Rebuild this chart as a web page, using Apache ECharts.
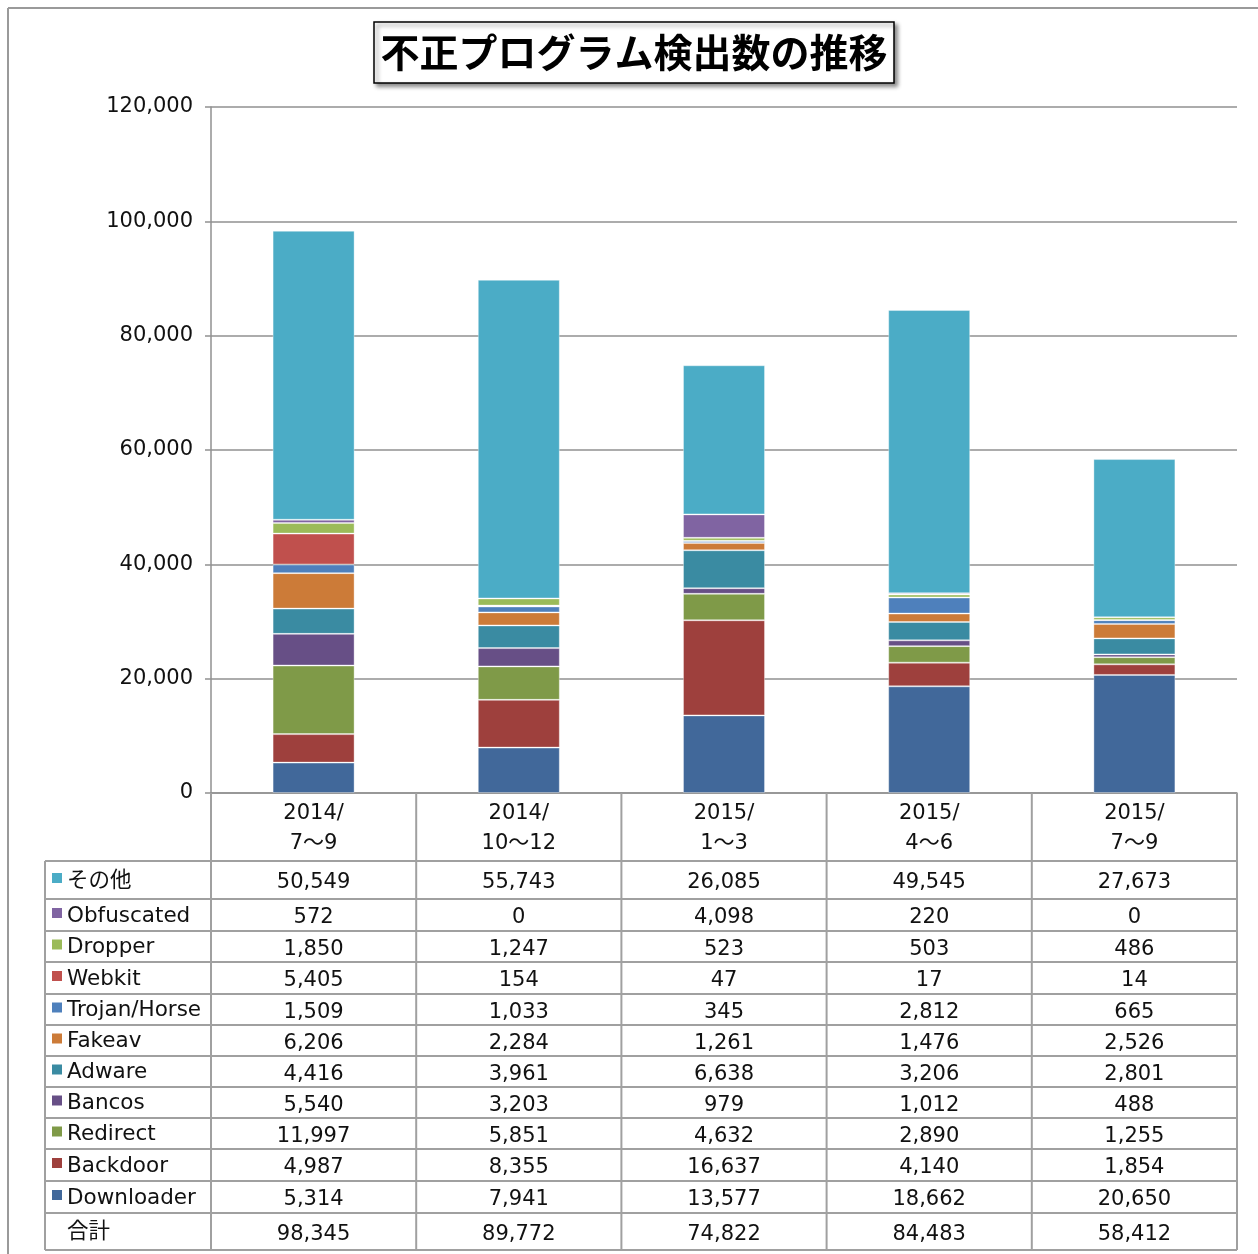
<!DOCTYPE html>
<html>
<head>
<meta charset="utf-8">
<script src="https://cdn.jsdelivr.net/npm/echarts@6/dist/echarts.min.js"></script>
<style>
html,body{margin:0;padding:0;background:#fff;}
#main{width:1258px;height:1254px;}
</style>
</head>
<body>
<div id="main"></div>
<script>
// ---- data ----
const titleText = '不正プログラム検出数の推移';
const categories = ['2014/\n7～9', '2014/\n10～12', '2015/\n1～3', '2015/\n4～6', '2015/\n7～9'];
const yTicks = [0, 20000, 40000, 60000, 80000, 100000, 120000];
// bottom to top stack order
const seriesNames = ['Downloader', 'Backdoor', 'Redirect', 'Bancos', 'Adware', 'Fakeav', 'Trojan/Horse', 'Webkit', 'Dropper', 'Obfuscated', 'その他'];
const downloader = [5314, 7941, 13577, 18662, 20650];
const backdoor   = [4987, 8355, 16637, 4140, 1854];
const redirect   = [11997, 5851, 4632, 2890, 1255];
const bancos     = [5540, 3203, 979, 1012, 488];
const adware     = [4416, 3961, 6638, 3206, 2801];
const fakeav     = [6206, 2284, 1261, 1476, 2526];
const trojan     = [1509, 1033, 345, 2812, 665];
const webkit     = [5405, 154, 47, 17, 14];
const dropper    = [1850, 1247, 523, 503, 486];
const obfuscated = [572, 0, 4098, 220, 0];
const sonota     = [50549, 55743, 26085, 49545, 27673];
const totals     = [98345, 89772, 74822, 84483, 58412];
const totalLabel = '合計';
const colors = ['#41689a', '#9e403d', '#7f9a48', '#674f86', '#3a8ba2', '#cc7b38', '#4e80bc', '#c0504d', '#9bbb59', '#8064a2', '#4bacc6'];
const seriesData = [downloader, backdoor, redirect, bancos, adware, fakeav, trojan, webkit, dropper, obfuscated, sonota];

// ---- layout ----
const G = {left: 211, top: 107, right: 21, bottom: 461};
const W = 1258, H = 1254;
const FONT = '"DejaVu Sans", "Noto Sans CJK JP", sans-serif';
const TFONT = '"Noto Sans CJK JP", sans-serif';
const gridLine = '#919191';

const chart = echarts.init(document.getElementById('main'), null, {renderer: 'canvas'});

const series = seriesNames.map((n, i) => ({
  name: n,
  type: 'bar',
  stack: 'total',
  barWidth: 82,
  data: seriesData[i],
  itemStyle: {color: colors[i], borderColor: 'rgba(255,255,255,0.35)', borderWidth: 1},
  emphasis: {disabled: true}
}));

const fmt = v => v.toLocaleString('en-US');

chart.setOption({
  animation: false,
  backgroundColor: '#fff',
  grid: G,
  xAxis: {
    type: 'category',
    data: categories,
    axisLine: {show: true, lineStyle: {color: gridLine, width: 1.5}},
    axisTick: {show: false},
    axisLabel: {fontFamily: FONT, fontSize: 21, color: '#111', lineHeight: 30, margin: 6}
  },
  yAxis: {
    type: 'value',
    min: yTicks[0],
    max: yTicks[yTicks.length - 1],
    interval: yTicks[1] - yTicks[0],
    axisLine: {show: true, lineStyle: {color: gridLine, width: 1.5}},
    axisTick: {show: true, length: 6, lineStyle: {color: gridLine, width: 1.5}},
    splitLine: {show: true, lineStyle: {color: gridLine, width: 1.5}},
    axisLabel: {fontFamily: FONT, fontSize: 21, color: '#111', margin: 18, padding: [5, 0, 0, 0], formatter: v => fmt(v)}
  },
  series: series
});

// ---- data table & decorations ----
function buildGraphics() {
  const els = [];
  const plotL = G.left, plotR = W - G.right, axisY = H - G.bottom;
  const tableL = 45;
  const headerBottom = 861;
  const rowLines = [861, 899, 931, 962, 994, 1025, 1056, 1087, 1118, 1149, 1181, 1213, 1250];
  const lineStyle = {stroke: '#a0a0a0', lineWidth: 2};
  const colBounds = [];
  for (let i = 0; i <= categories.length; i++) {
    colBounds.push(plotL + (plotR - plotL) * i / categories.length);
  }
  colBounds.forEach(x => {
    els.push({type: 'line', shape: {x1: x, y1: axisY, x2: x, y2: rowLines[rowLines.length - 1]}, style: lineStyle, z: 10});
  });
  els.push({type: 'line', shape: {x1: tableL, y1: headerBottom, x2: tableL, y2: rowLines[rowLines.length - 1]}, style: lineStyle, z: 10});
  rowLines.forEach(y => {
    els.push({type: 'line', shape: {x1: tableL, y1: y, x2: plotR, y2: y}, style: lineStyle, z: 10});
  });
  const rowNames = seriesNames.slice().reverse();
  const rowData = seriesData.slice().reverse();
  const rowColors = colors.slice().reverse();
  const allRows = rowNames.map((n, i) => ({name: n, data: rowData[i], color: rowColors[i]}));
  allRows.push({name: totalLabel, data: totals, color: null});
  allRows.forEach((r, ri) => {
    const yc = (rowLines[ri] + rowLines[ri + 1]) / 2;
    if (r.color) {
      els.push({type: 'rect', shape: {x: 52, y: yc - 7, width: 10, height: 10}, style: {fill: r.color}, z: 11});
    }
    els.push({type: 'text', x: 67, y: yc + 1, style: {text: r.name, fontFamily: FONT, fontSize: 21.5, fill: '#111', verticalAlign: 'middle', textVerticalAlign: 'middle'}, z: 11});
    r.data.forEach((v, ci) => {
      const xc = chart.convertToPixel({xAxisIndex: 0}, ci);
      els.push({type: 'text', x: xc, y: yc + 3, style: {text: fmt(v), fontFamily: FONT, fontSize: 21, fill: '#111', align: 'center', verticalAlign: 'middle', textAlign: 'center', textVerticalAlign: 'middle'}, z: 11});
    });
  });
  // outer frame
  els.push({type: 'line', shape: {x1: 8, y1: 8, x2: W, y2: 8}, style: {stroke: '#9a9a9a', lineWidth: 2}, z: 1});
  els.push({type: 'line', shape: {x1: 8, y1: 8, x2: 8, y2: H}, style: {stroke: '#9a9a9a', lineWidth: 2}, z: 1});
  // title box
  els.push({type: 'rect', shape: {x: 374, y: 22, width: 520, height: 61},
    style: {fill: '#fff', stroke: '#000', lineWidth: 1.5, shadowBlur: 4, shadowOffsetX: 3, shadowOffsetY: 3, shadowColor: 'rgba(0,0,0,0.45)'}, z: 20});
  els.push({type: 'text', x: 634, y: 52, style: {text: titleText, fontFamily: TFONT, fontSize: 39, fontWeight: 'bold', fill: '#000', align: 'center', verticalAlign: 'middle', textAlign: 'center', textVerticalAlign: 'middle'}, z: 21});
  return els;
}
chart.setOption({graphic: {elements: buildGraphics()}});
</script>
</body>
</html>
